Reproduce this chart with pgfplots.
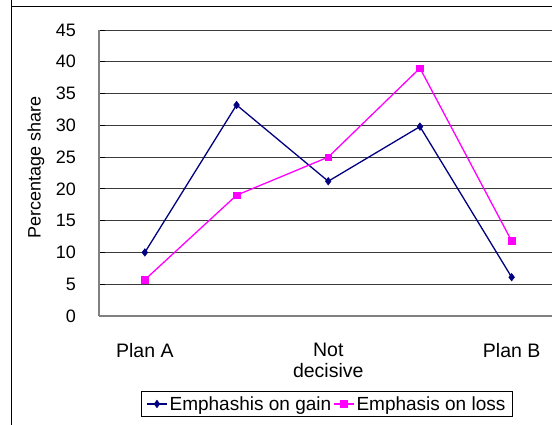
\documentclass[border=0pt]{standalone}
\usepackage{pgfplots}
\pgfplotsset{compat=1.18}
\usepackage{fontspec}
\setmainfont{Liberation Sans}
\definecolor{gaincol}{RGB}{0,0,128}
\definecolor{losscol}{RGB}{255,0,255}
\definecolor{gridcol}{RGB}{60,60,60}
\definecolor{axiscol}{RGB}{128,128,128}

\begin{document}
\begin{tikzpicture}[x=1pt,y=1pt]
\path[use as bounding box] (0,0) rectangle (552,425);
% chart area frame
\draw[line width=1pt] (11,440) -- (11,418.5) -- (600,418.5);
\draw[line width=1pt] (11,418.5) -- (11,-30);
\begin{axis}[
  at={(99pt,109pt)}, anchor=south west,
  scale only axis, width=453pt, height=286pt,
  xmin=-0.5, xmax=4.44, ymin=0, ymax=45,
  axis lines*=left,
  axis line style={axiscol, line width=1.2pt},
  ytick={0,5,...,45},
  xtick={0,2,4},
  xticklabels={Plan A,{Not\\decisive},Plan B},
  xtick style={draw=none},
  ytick style={black, line width=0.8pt},
  major tick length=6pt,
  tick align=inside,
  ymajorgrids,
  grid style={gridcol, line width=0.9pt},
  clip=false,
  /pgf/number format/assume math mode=true,
  yticklabel style={inner sep=0pt, font=\fontsize{18}{21}\selectfont},
  yticklabel shift=23pt,
  xticklabel style={inner sep=0pt, align=center, font=\fontsize{19.5}{21}\selectfont},
  xticklabel shift=27pt,
  ylabel={Percentage share},
  ylabel style={font=\fontsize{18}{21}\selectfont, at={(axis description cs:-0.139,0.52)}, anchor=center, inner sep=0pt},
  legend columns=2,
  legend style={
    at={(axis description cs:0.503,-0.262)}, anchor=north,
    draw=black, line width=0.8pt,
    font=\fontsize{19}{21}\selectfont,
    inner xsep=5pt, inner ysep=3pt,
    /tikz/every even column/.append style={column sep=0pt},
  },
  legend image code/.code={\draw[mark repeat=2,mark phase=2,#1] plot coordinates {(0pt,0pt) (10pt,0pt) (20pt,0pt)};},
]
\addplot[gaincol, line width=1.3pt, mark=diamond*, mark size=3.8pt, mark options={fill=gaincol, line width=0.5pt}]
  coordinates {(0,10.0) (1,33.2) (2,21.2) (3,29.8) (4,6.1)};
\addlegendentry{Emphashis on gain}
\addplot[losscol, line width=1.3pt, mark=square*, mark size=3.3pt, mark options={fill=losscol, line width=0.5pt}]
  coordinates {(0,5.7) (1,19.0) (2,25.0) (3,39.0) (4,11.8)};
\addlegendentry{Emphasis on loss}
\end{axis}
\end{tikzpicture}
\end{document}
